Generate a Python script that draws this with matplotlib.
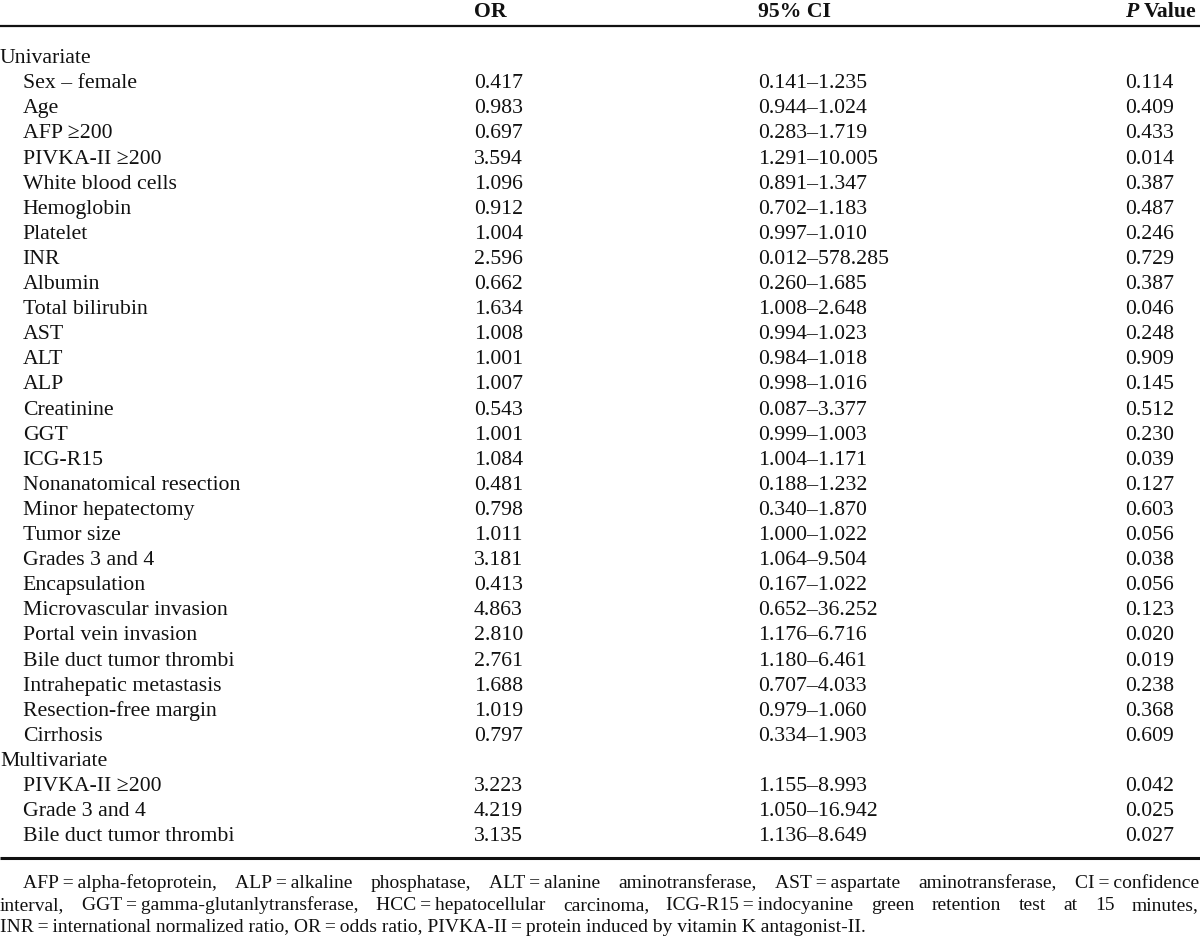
import matplotlib
matplotlib.use('Agg')
import matplotlib.pyplot as plt

FONT = ['Liberation Serif', 'DejaVu Serif']
plt.rcParams['font.family'] = FONT

# ---------------- data ----------------
col_headers = ['OR', '95% CI', 'P', 'Value']

section_titles = ['Univariate', 'Multivariate']

uni_labels = ['Sex \u2013 female', 'Age', 'AFP \u2265200', 'PIVKA-II \u2265200',
              'White blood cells', 'Hemoglobin', 'Platelet', 'INR', 'Albumin',
              'Total bilirubin', 'AST', 'ALT', 'ALP', 'Creatinine', 'GGT',
              'ICG-R15', 'Nonanatomical resection', 'Minor hepatectomy',
              'Tumor size', 'Grades 3 and 4', 'Encapsulation',
              'Microvascular invasion', 'Portal vein invasion',
              'Bile duct tumor thrombi', 'Intrahepatic metastasis',
              'Resection-free margin', 'Cirrhosis']
uni_or = ['0.417', '0.983', '0.697', '3.594', '1.096', '0.912', '1.004', '2.596',
          '0.662', '1.634', '1.008', '1.001', '1.007', '0.543', '1.001', '1.084',
          '0.481', '0.798', '1.011', '3.181', '0.413', '4.863', '2.810', '2.761',
          '1.688', '1.019', '0.797']
uni_ci_low = ['0.141', '0.944', '0.283', '1.291', '0.891', '0.702', '0.997', '0.012',
              '0.260', '1.008', '0.994', '0.984', '0.998', '0.087', '0.999', '1.004',
              '0.188', '0.340', '1.000', '1.064', '0.167', '0.652', '1.176', '1.180',
              '0.707', '0.979', '0.334']
uni_ci_high = ['1.235', '1.024', '1.719', '10.005', '1.347', '1.183', '1.010', '578.285',
               '1.685', '2.648', '1.023', '1.018', '1.016', '3.377', '1.003', '1.171',
               '1.232', '1.870', '1.022', '9.504', '1.022', '36.252', '6.716', '6.461',
               '4.033', '1.060', '1.903']
uni_p = ['0.114', '0.409', '0.433', '0.014', '0.387', '0.487', '0.246', '0.729',
         '0.387', '0.046', '0.248', '0.909', '0.145', '0.512', '0.230', '0.039',
         '0.127', '0.603', '0.056', '0.038', '0.056', '0.123', '0.020', '0.019',
         '0.238', '0.368', '0.609']

multi_labels = ['PIVKA-II \u2265200', 'Grade 3 and 4', 'Bile duct tumor thrombi']
multi_or = ['3.223', '4.219', '3.135']
multi_ci_low = ['1.155', '1.050', '1.136']
multi_ci_high = ['8.993', '16.942', '8.649']
multi_p = ['0.042', '0.025', '0.027']

T = '\u2009=\u2009'
footnote_lines = [
    'AFP' + T + 'alpha-fetoprotein, ALP' + T + 'alkaline phosphatase, ALT' + T +
    'alanine aminotransferase, AST' + T + 'aspartate aminotransferase, CI' + T + 'confidence',
    'interval, GGT' + T + 'gamma-glutanlytransferase, HCC' + T + 'hepatocellular carcinoma, ICG-R15' +
    T + 'indocyanine green retention test at 15 minutes,',
    'INR' + T + 'international normalized ratio, OR' + T + 'odds ratio, PIVKA-II' + T +
    'protein induced by vitamin K antagonist-II.',
]

# ---------------- layout ----------------
W, H = 1200, 940
fig = plt.figure(figsize=(W / 100, H / 100), dpi=100)
ax = fig.add_axes([0, 0, 1, 1])
ax.set_xlim(0, W)
ax.set_ylim(H, 0)
ax.axis('off')

INK = '#111111'
FS = 15.7
FS_NOTE = 14.0
X_SEC, X_IND = 0, 22.7
X_OR, X_CI, X_P = 474, 758, 1125
Y0, DY = 56, 25.1
HEAD_Y = 9.8
TOP_RULE, BOT_RULE = 25.5, 858
NOTE_Y = [882, 904, 926]

renderer = fig.canvas.get_renderer()


def width_px(t):
    bb = t.get_window_extent(renderer=renderer)
    return bb.width


def txt(x, y, s, **kw):
    fs = kw.pop('fs', FS)
    base = 0.33 * fs * 100 / 72
    return ax.text(x, y + base, s, fontsize=fs, color=INK,
                   va='baseline', ha='left', **kw)


# header
txt(X_OR, HEAD_Y, col_headers[0], fontweight='bold')
txt(X_CI, HEAD_Y, col_headers[1], fontweight='bold')
tp = txt(X_P, HEAD_Y, col_headers[2], fontweight='bold', fontstyle='italic')
pw = width_px(tp)
txt(X_P + pw + 5, HEAD_Y, col_headers[3], fontweight='bold')

ax.plot([0, W], [TOP_RULE, TOP_RULE], color=INK, lw=1.6, solid_capstyle='butt')
ax.plot([0, W], [BOT_RULE, BOT_RULE], color=INK, lw=2.2, solid_capstyle='butt')

row = 0
sections = [
    (section_titles[0], uni_labels, uni_or, uni_ci_low, uni_ci_high, uni_p),
    (section_titles[1], multi_labels, multi_or, multi_ci_low, multi_ci_high, multi_p),
]
for title, labels, ors, lo, hi, ps in sections:
    txt(X_SEC, Y0 + row * DY, title)
    row += 1
    for lab, o, l, h, p in zip(labels, ors, lo, hi, ps):
        y = Y0 + row * DY
        txt(X_IND, y, lab)
        txt(X_OR, y, o)
        txt(X_CI, y, l + '\u2013' + h)
        txt(X_P, y, p)
        row += 1

# footnote, justified
starts = [X_IND, 0, 0]
for i, line in enumerate(footnote_lines):
    y = NOTE_Y[i]
    words = line.split(' ')
    if i == len(footnote_lines) - 1:
        txt(starts[i], y, line, fs=FS_NOTE)
        continue
    objs = [txt(0, y, w, fs=FS_NOTE) for w in words]
    widths = [width_px(o) for o in objs]
    gap = (W - 1 - starts[i] - sum(widths)) / (len(words) - 1)
    x = starts[i]
    for o, w in zip(objs, widths):
        o.set_x(x)
        x += w + gap

fig.savefig('out.png', dpi=100, facecolor='white')
